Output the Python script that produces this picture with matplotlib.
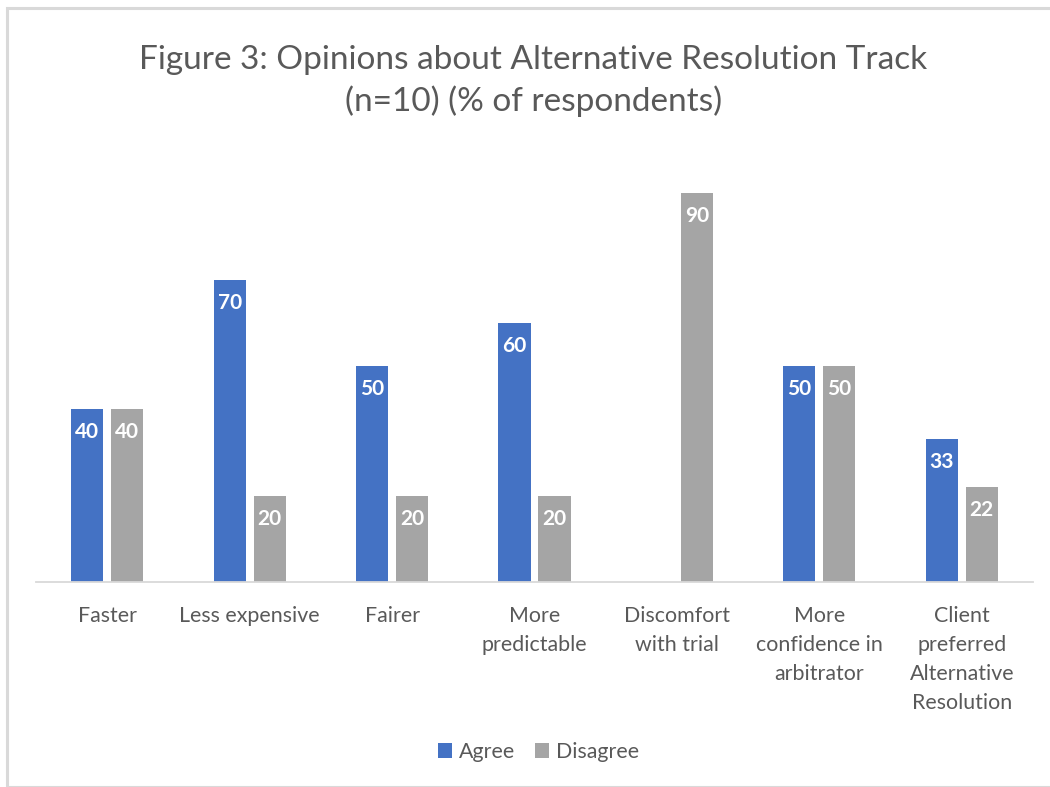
import matplotlib.pyplot as plt
import numpy as np
from matplotlib.patches import Rectangle

categories = ["Faster", "Less expensive", "Fairer", "More\npredictable",
              "Discomfort\nwith trial", "More\nconfidence in\narbitrator",
              "Client\npreferred\nAlternative\nResolution"]
agree = [40, 70, 50, 60, 0, 50, 33]
disagree = [40, 20, 20, 20, 90, 50, 22]
series_names = ["Agree", "Disagree"]
colors = ["#4472C4", "#A5A5A5"]
title = "Figure 3: Opinions about Alternative Resolution Track\n(n=10) (% of respondents)"

plt.rcParams['font.family'] = ['Lato', 'DejaVu Sans']
txt = "#595959"

fig = plt.figure(figsize=(10.5, 7.87), dpi=100)
fig.patches.append(Rectangle((7/1050, 0), 1.2, (787-8)/787, transform=fig.transFigure,
                             fill=False, edgecolor="#d9d9d9", linewidth=2.2, zorder=0))
ax = fig.add_axes([36/1050, 1-582/787, (1033-36)/1050, (582-150)/787])

x = np.arange(len(categories))
w = 0.225
off = 0.028 + w/2
b1 = ax.bar(x - off, agree, w, color=colors[0], label=series_names[0])
b2 = ax.bar(x + off, disagree, w, color=colors[1], label=series_names[1])

for bars, vals in ((b1, agree), (b2, disagree)):
    for r, v in zip(bars, vals):
        if v == 0:
            continue
        ax.annotate(str(v), (r.get_x() + r.get_width()/2, v), xytext=(0, -16.5),
                    textcoords="offset points", ha="center", va="center",
                    color="white", fontweight="bold", fontsize=15)

ax.set_xlim(-0.5, len(categories) - 0.5)
ax.set_ylim(0, 100)
ax.set_yticks([])
ax.set_xticks(x)
ax.set_xticklabels(categories, fontsize=15.4, color=txt, linespacing=1.57, va="top")
ax.tick_params(axis="x", length=0, pad=17)
for s in ["top", "right", "left"]:
    ax.spines[s].set_visible(False)
ax.spines["bottom"].set_color("#d9d9d9")
ax.spines["bottom"].set_linewidth(1.3)

fig.text(0.508, 1-81/787, title, ha="center", va="center", fontsize=24,
         color=txt, linespacing=1.42)

leg = fig.legend(loc="center", bbox_to_anchor=(0.513, 1-752/787), ncol=2, frameon=False,
                 fontsize=15.4, handlelength=0.65, handleheight=0.65, handletextpad=0.35,
                 columnspacing=0.9)
for t in leg.get_texts():
    t.set_color(txt)

fig.savefig("out.png", dpi=100, facecolor="white")
